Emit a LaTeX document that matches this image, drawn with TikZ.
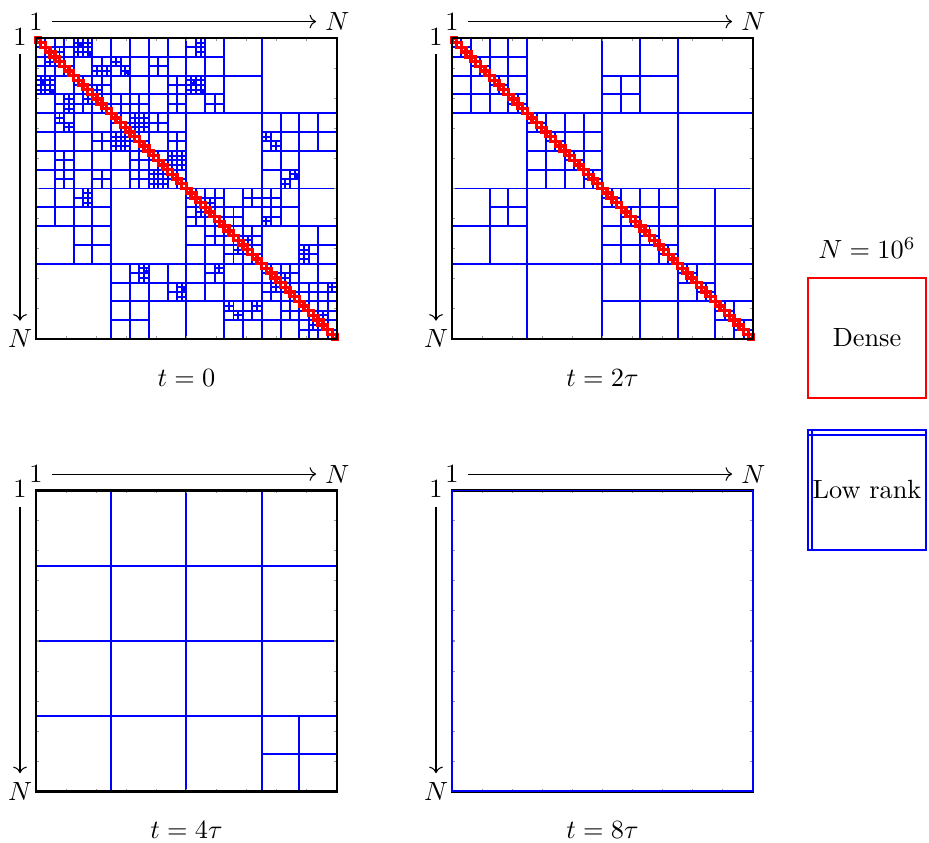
\documentclass[tikz,border=0pt]{standalone}
\usetikzlibrary{arrows.meta}
\tikzset{
  lowrank/.style={draw=blue, line width=0.75pt},
  dense/.style={draw=red, line width=1.3pt},
  frame/.style={draw=black, line width=1.1pt},
  tickmark/.style={draw=black!40, line width=0.4pt},
  axisarrow/.style={->, line width=0.4pt},
  legendbox/.style={minimum width=45.1pt, minimum height=45.4pt, inner sep=0.5pt, line width=0.75pt},
}
% one split block (row/col/size, in N/64) = a blue cross
\newcommand{\hsplit}[1]{%
  \foreach \br/\bc/\bs in {#1}
    \draw[lowrank] (\bc+\bs/2,\br) -- (\bc+\bs/2,\br+\bs) (\bc,\br+\bs/2) -- (\bc+\bs,\br+\bs/2);}
% near-field along the diagonal, dense blocks in red
\newcommand{\hdiag}{%
  \foreach \k in {0,...,15}
    \draw[lowrank] (4*\k+2,4*\k) -- (4*\k+2,4*\k+4) (4*\k,4*\k+2) -- (4*\k+4,4*\k+2)
      (4*\k+1,4*\k) -- (4*\k+1,4*\k+2) (4*\k,4*\k+1) -- (4*\k+2,4*\k+1)
      (4*\k+3,4*\k+2) -- (4*\k+3,4*\k+4) (4*\k+2,4*\k+3) -- (4*\k+4,4*\k+3);
  \foreach \k in {0,...,63}
    \draw[dense] (\k,\k) rectangle ++(1,1);}
% wider band of small blocks next to the diagonal (t = 0 only)
\newcommand{\hband}{%
  \foreach \k in {0,...,7}
    {\hsplit{8*\k/8*\k+4/4, 8*\k+4/8*\k/4, 8*\k+2/8*\k+4/2, 8*\k+4/8*\k+2/2}}}
\newcommand{\hframe}{%
  \foreach \k in {1,...,9}
    \draw[tickmark] (6.4*\k,0) -- ++(0,0.6) (6.4*\k,64) -- ++(0,-0.6)
      (0,6.4*\k) -- ++(0.6,0) (64,6.4*\k) -- ++(-0.6,0);
  \draw[frame] (0,0) rectangle (64,64);}
\newcommand{\haxes}[2]{%
  \node (#1-c1) at (0,-3.5) {$1$};
  \node (#1-cN) at (64.1,-3.5) {$N$};
  \node (#1-r1) at (-3.4,-0.3) {$1$};
  \node (#1-rN) at (-3.4,64) {$N$};
  \draw[axisarrow] (#1-c1) -- (#1-cN);
  \draw[axisarrow] (#1-r1) -- (#1-rN);
  \node (#1-cap) at (32,72.3) {#2};}

\begin{document}
\begin{tikzpicture}[x=0.38pt, y=-0.38pt]
  \useasboundingbox (0,0) rectangle (929,843);

  % --- t = 0 --------------------------------------------------------------
  \begin{scope}[shift={(36,38)}, x=1.787pt, y=-1.787pt]
    \hsplit{0/0/64,
      0/0/32, 0/32/32, 32/0/32, 32/32/32,
      0/0/16, 0/16/16, 16/0/16, 16/16/16, 0/32/16, 16/48/16, 32/0/16, 48/16/16,
      32/32/16, 32/48/16, 48/32/16, 48/48/16,
      0/0/8, 0/8/8, 8/0/8, 8/8/8, 0/16/8, 0/24/8, 8/16/8, 8/24/8,
      16/0/8, 16/8/8, 24/0/8, 24/8/8, 16/16/8, 16/24/8, 24/16/8, 24/24/8,
      0/32/8, 8/32/8, 16/48/8, 16/56/8, 24/48/8,
      32/0/8, 32/8/8, 40/8/8, 48/16/8, 48/24/8, 56/16/8,
      32/32/8, 32/40/8, 40/32/8, 40/40/8, 32/48/8, 40/56/8,
      48/32/8, 48/40/8, 56/40/8, 48/48/8, 48/56/8, 56/48/8, 56/56/8,
      0/8/4, 4/12/4, 4/16/4, 4/24/4, 8/0/4, 8/28/4, 12/4/4, 12/16/4, 12/20/4,
      12/28/4, 16/4/4, 16/24/4, 20/12/4, 20/28/4, 24/4/4, 24/20/4, 28/4/4,
      28/12/4, 28/20/4,
      0/32/4, 8/32/4, 12/36/4, 20/48/4, 28/52/4, 32/8/4, 48/20/4, 52/28/4,
      32/44/4, 32/48/4, 36/48/4, 48/36/4, 56/40/4, 56/44/4, 44/56/4,
      36/40/4, 40/36/4, 52/56/4, 56/52/4, 52/60/4,
      0/8/2, 0/10/2, 2/8/2, 2/10/2, 6/12/2, 6/14/2, 4/16/2, 6/18/2,
      8/0/2, 8/2/2, 10/0/2, 10/2/2, 12/6/2, 14/6/2, 16/4/2, 18/6/2,
      16/20/2, 16/22/2, 18/20/2, 18/22/2, 20/16/2, 20/18/2, 22/16/2, 22/18/2,
      24/28/2, 24/30/2, 26/28/2, 26/30/2, 28/24/2, 28/26/2, 30/24/2, 30/26/2,
      8/32/2, 8/34/2, 10/32/2, 10/34/2, 0/34/2, 2/34/2, 20/48/2, 22/50/2,
      28/54/2, 30/52/2, 32/10/2, 34/10/2, 48/22/2, 50/22/2, 52/30/2, 54/30/2,
      38/48/2, 48/38/2, 44/56/2, 46/56/2, 56/40/2, 58/42/2, 56/46/2, 52/62/2,
      9/33/1, 11/35/1, 49/23/1, 53/31/1, 7/19/1, 29/55/1, 1/9/1, 3/11/1,
      9/1/1, 11/3/1}
    \hband
    \hdiag
    \hframe
    \haxes{a}{$t=0$}
  \end{scope}

  % --- t = 2 tau ----------------------------------------------------------
  \begin{scope}[shift={(452,38)}, x=1.787pt, y=-1.787pt]
    \hsplit{0/0/64,
      0/0/32, 0/32/32, 32/0/32, 32/32/32,
      0/0/16, 16/16/16, 0/32/16, 32/0/16, 32/32/16, 32/48/16, 48/32/16, 48/48/16,
      0/0/8, 0/8/8, 8/0/8, 8/8/8, 16/16/8, 16/24/8, 24/16/8, 24/24/8,
      8/32/8, 32/8/8, 32/32/8, 32/40/8, 40/32/8, 40/40/8, 48/48/8, 56/56/8}
    \hdiag
    \hframe
    \haxes{b}{$t=2\tau$}
  \end{scope}

  % --- t = 4 tau ----------------------------------------------------------
  \begin{scope}[shift={(36,490.5)}, x=1.787pt, y=-1.787pt]
    \hsplit{0/0/64, 0/0/32, 0/32/32, 32/0/32, 32/32/32, 48/48/16}
    \hframe
    \haxes{c}{$t=4\tau$}
  \end{scope}

  % --- t = 8 tau ----------------------------------------------------------
  \begin{scope}[shift={(452,490.5)}, x=1.787pt, y=-1.787pt]
    \hframe
    \draw[lowrank] (0,0) rectangle (64,64);
    \haxes{d}{$t=8\tau$}
  \end{scope}

  % --- legend -------------------------------------------------------------
  \node (size) at (867,248) {$N=10^6$};
  \node[legendbox, draw=red] (dn) at (867,338) {Dense};
  \node[legendbox, draw=blue] (lr) at (867,490) {Low rank};
  \draw[lowrank] ([yshift=-2.2pt]lr.north west) -- ([yshift=-2.2pt]lr.north east);
  \draw[lowrank] ([xshift=2.1pt]lr.north west) -- ([xshift=2.1pt]lr.south west);

\end{tikzpicture}
\end{document}
